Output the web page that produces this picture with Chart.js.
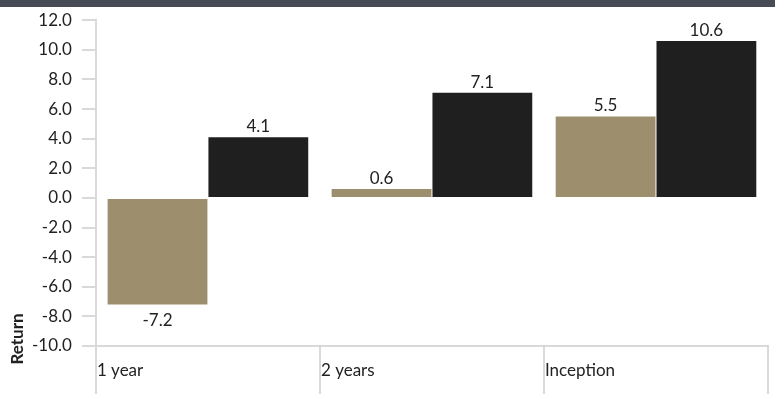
<!DOCTYPE html>
<html lang="en">
<head>
    <meta charset="UTF-8">
    <title>Return</title>
    <script src="https://cdn.jsdelivr.net/npm/chart.js"></script>
    <style>
        body { margin: 0; background: #fff; }
        #wrap { width: 775px; height: 394px; position: relative; }
        #strip { position: absolute; left: 0; top: 0; width: 775px; height: 7px; background: #474b55; }
    </style>
</head>
<body>
    <div id="wrap"><canvas id="returnChart"></canvas><div id="strip"></div></div>
    <script>
        const categories = ['1 year', '2 years', 'Inception'];
        const fundValues = [-7.2, 0.6, 5.5];
        const benchValues = [4.1, 7.1, 10.6];
        const yTicks = { min: -10, max: 12, step: 2 };

        const FONT = 'Lato, "Open Sans", sans-serif';
        const FONT_SIZE = 17;

        // value labels above / below each bar
        const valueLabels = {
            id: 'valueLabels',
            afterDatasetsDraw(chart) {
                const ctx = chart.ctx;
                ctx.save();
                ctx.font = FONT_SIZE + 'px ' + FONT;
                ctx.fillStyle = '#222';
                ctx.textAlign = 'center';
                chart.data.datasets.forEach((ds, i) => {
                    chart.getDatasetMeta(i).data.forEach((bar, j) => {
                        const v = ds.data[j];
                        if (v >= 0) {
                            ctx.textBaseline = 'alphabetic';
                            ctx.fillText(v.toFixed(1), bar.x, bar.y - 5);
                        } else {
                            ctx.textBaseline = 'top';
                            ctx.fillText(v.toFixed(1), bar.x, bar.y + 7);
                        }
                    });
                });
                ctx.restore();
            }
        };

        // category names sit at the left of each category, between the separators
        const catLabels = {
            id: 'catLabels',
            afterDraw(chart) {
                const ctx = chart.ctx;
                const xs = chart.scales.x;
                const half = (xs.getPixelForValue(1) - xs.getPixelForValue(0)) / 2;
                ctx.save();
                ctx.font = FONT_SIZE + 'px ' + FONT;
                ctx.fillStyle = '#222';
                ctx.textAlign = 'left';
                ctx.textBaseline = 'alphabetic';
                categories.forEach((c, i) => {
                    ctx.fillText(c, xs.getPixelForValue(i) - half + 1, xs.top + 30);
                });
                // rotated axis title sitting low on the left
                ctx.translate(23, 339);
                ctx.rotate(-Math.PI / 2);
                ctx.font = 'bold ' + FONT_SIZE + 'px ' + FONT;
                ctx.textAlign = 'center';
                ctx.fillText('Return', 0, 0);
                ctx.restore();
            }
        };

        const ctx = document.getElementById('returnChart').getContext('2d');
        new Chart(ctx, {
            type: 'bar',
            data: {
                labels: categories,
                datasets: [
                    { label: 'Fund', data: fundValues, backgroundColor: '#9d8f6e' },
                    { label: 'Benchmark', data: benchValues, backgroundColor: '#1f1f1f' }
                ]
            },
            options: {
                responsive: true,
                maintainAspectRatio: false,
                animation: false,
                layout: { padding: { left: 22, right: 7, top: 11, bottom: 0 } },
                plugins: { legend: { display: false }, tooltip: { enabled: false } },
                datasets: { bar: { categoryPercentage: 0.9, barPercentage: 0.99 } },
                scales: {
                    x: {
                        offset: true,
                        grid: {
                            offset: true,
                            drawOnChartArea: false,
                            tickLength: 48,
                            color: '#d9d9d9',
                            lineWidth: 2
                        },
                        border: { color: '#d9d9d9', width: 2 },
                        ticks: { display: false }
                    },
                    y: {
                        min: yTicks.min,
                        max: yTicks.max,
                        grid: {
                            drawOnChartArea: false,
                            tickLength: 14,
                            color: '#d9d9d9',
                            lineWidth: 2
                        },
                        border: { color: '#d9d9d9', width: 2 },
                        ticks: {
                            stepSize: yTicks.step,
                            padding: 10,
                            color: '#222',
                            font: { family: FONT, size: FONT_SIZE },
                            callback: v => v.toFixed(1)
                        }
                    }
                }
            },
            plugins: [valueLabels, catLabels]
        });
    </script>
</body>
</html>
